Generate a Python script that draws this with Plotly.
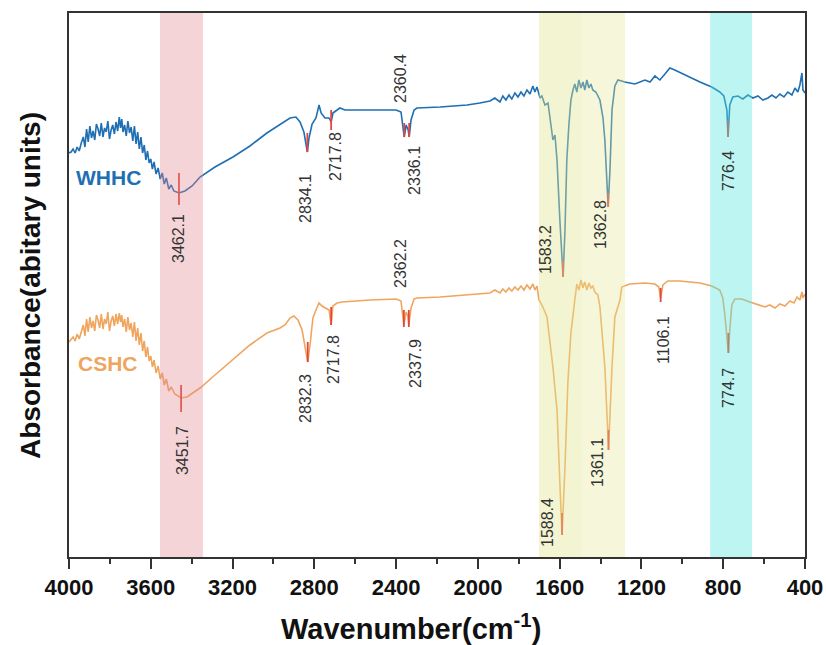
import plotly.graph_objects as go

# ---------------- data ----------------
whhc_wn = [4000, 3990, 3980, 3970, 3960, 3950, 3940, 3930, 3922, 3914,
           3906, 3898, 3890, 3882, 3874, 3866, 3858, 3850, 3842, 3834,
           3826, 3818, 3810, 3802, 3794, 3786, 3778, 3770, 3762, 3754,
           3748, 3742, 3736, 3728, 3720, 3712, 3704, 3696, 3688, 3680,
           3672, 3664, 3656, 3648, 3640, 3632, 3624, 3616, 3608, 3600,
           3592, 3584, 3574, 3564, 3554, 3544, 3534, 3524, 3512, 3500,
           3487,
           3462.1, 3433, 3398, 3359, 3286, 3198,
           3115, 3032, 2968, 2919, 2890, 2870, 2851, 2834.1, 2826, 2811,
           2792, 2777, 2767, 2748, 2728, 2717.8, 2709, 2689, 2675, 2650,
           2528, 2400, 2376, 2366, 2360.4, 2351, 2341, 2336.1, 2327, 2312,
           2298, 2185, 2053, 1990, 1941, 1917, 1892, 1878, 1863, 1848,
           1834, 1819, 1804, 1789, 1775, 1760, 1745, 1731, 1721, 1711,
           1696, 1687, 1672, 1657, 1647, 1633, 1623, 1613, 1599, 1583.2,
           1574, 1565, 1555, 1545, 1535, 1526, 1516, 1506, 1496, 1486,
           1477, 1467, 1457, 1447, 1438, 1423, 1403, 1388, 1379, 1369,
           1362.8, 1354, 1344, 1330, 1315, 1281, 1232, 1183, 1158, 1134,
           1110, 1085, 1061, 1037, 988, 914, 856, 817, 797, 782,
           776.4, 768, 753, 728, 704, 679, 655, 630, 606, 581,
           562, 542, 523, 503, 484, 464, 449, 435, 425, 415,
           410, 400]
whhc_abs = [404, 405, 408, 404, 410, 406, 414, 420, 410, 428,
            415, 431, 419, 426, 417, 433, 428, 421, 434, 420,
            429, 425, 436, 418, 427, 432, 423, 435, 426, 440,
            429, 438, 425, 432, 421, 436, 424, 430, 416, 431,
            413, 425, 408, 420, 404, 412, 397, 406, 394, 398,
            388, 395, 383, 389, 378, 384, 373, 379, 368, 372,
            366,
            364, 366, 371, 380, 390, 400,
            411, 424, 433, 439, 440, 435, 425, 405, 419, 433,
            439, 452, 444, 439, 439, 435, 444, 447, 449, 447,
            447, 447, 445, 427, 420, 432, 427, 420, 437, 447,
            449, 450, 452, 454, 456, 459, 455, 461, 457, 462,
            458, 464, 460, 465, 461, 467, 463, 471, 465, 470,
            459, 461, 452, 454, 437, 417, 422, 397, 337, 280,
            327, 397, 432, 457, 467, 473, 465, 477, 469, 475,
            467, 477, 469, 473, 467, 465, 457, 439, 417, 377,
            350, 387, 447, 471, 477, 475, 473, 477, 475, 481,
            477, 483, 489, 487, 482, 475, 470, 465, 461, 447,
            420, 452, 460, 461, 458, 462, 459, 461, 457, 459,
            462, 459, 463, 460, 465, 462, 469, 465, 472, 484,
            467, 464]

cshc_wn = [4000, 3990, 3980, 3970, 3960, 3950, 3940, 3930, 3922, 3914,
           3906, 3898, 3890, 3882, 3874, 3866, 3858, 3850, 3842, 3834,
           3826, 3818, 3810, 3802, 3794, 3786, 3778, 3770, 3762, 3754,
           3748, 3742, 3736, 3728, 3720, 3712, 3704, 3696, 3688, 3680,
           3672, 3664, 3656, 3648, 3640, 3632, 3624, 3616, 3608, 3600,
           3592, 3584, 3574, 3564, 3554, 3544, 3534, 3524, 3512, 3500,
           3482,
           3451.7, 3423, 3394, 3359, 3286,
           3198, 3115, 3032, 2968, 2944, 2919, 2900, 2880, 2860, 2846,
           2832.3, 2821, 2807, 2792, 2777, 2763, 2743, 2728, 2717.8, 2709,
           2689, 2665, 2528, 2400, 2376, 2368, 2362.2, 2351, 2343, 2337.9,
           2327, 2312, 2298, 2185, 2053, 1990, 1941, 1917, 1892, 1878,
           1863, 1848, 1834, 1819, 1804, 1789, 1775, 1760, 1745, 1731,
           1721, 1711, 1701, 1682, 1662, 1633, 1613, 1599, 1588.4, 1574,
           1560, 1545, 1535, 1526, 1516, 1506, 1496, 1486, 1477, 1467,
           1457, 1447, 1438, 1428, 1413, 1403, 1379, 1361.1, 1344, 1330,
           1305, 1296, 1257, 1183, 1134, 1115, 1106.1, 1095, 1071, 1012,
           914, 856, 817, 802, 792, 782, 774.7, 768, 758, 743,
           709, 670, 630, 596, 572, 547, 523, 498, 474, 454,
           439, 425, 415, 410, 400]
cshc_abs = [215, 217, 220, 216, 223, 218, 226, 232, 221, 238,
            225, 240, 229, 236, 226, 242, 237, 229, 243, 228,
            238, 233, 245, 226, 236, 241, 231, 243, 233, 244,
            235, 242, 230, 238, 225, 240, 227, 234, 220, 235,
            216, 229, 212, 224, 206, 216, 200, 210, 196, 201,
            190, 197, 184, 191, 178, 184, 172, 178, 166, 170,
            163,
            159, 160, 164, 169, 182,
            197, 212, 224, 229, 232, 239, 241, 237, 227, 212,
            195, 212, 239, 247, 254, 251, 249, 247, 232, 251,
            254, 255, 257, 258, 256, 239, 232, 245, 241, 232,
            249, 258, 259, 260, 262, 263, 264, 267, 264, 268,
            265, 269, 266, 270, 267, 271, 267, 272, 268, 273,
            267, 271, 257, 250, 240, 190, 147, 74, 22, 90,
            174, 224, 244, 257, 273, 267, 277, 269, 275, 267,
            274, 269, 271, 265, 262, 250, 190, 107, 190, 240,
            257, 270, 273, 274, 273, 270, 259, 272, 276, 276,
            274, 271, 267, 259, 242, 217, 204, 227, 252, 258,
            258, 255, 252, 250, 252, 249, 253, 251, 256, 254,
            260, 257, 265, 259, 263]

# peak marks
whhc_peaks = [3462.1, 2834.1, 2717.8, 2360.4, 2336.1, 1583.2, 1362.8, 776.4]
whhc_mark_lo = [352, 405, 427, 420, 420, 280, 350, 420]
whhc_mark_hi = [384, 424, 447, 434, 434, 297, 364, 437]
cshc_peaks = [3451.7, 2832.3, 2717.8, 2362.2, 2337.9, 1588.4, 1361.1, 1106.1, 774.7]
cshc_mark_lo = [145, 195, 232, 230, 230, 22, 107, 255, 204]
cshc_mark_hi = [172, 215, 250, 247, 247, 44, 127, 269, 224]

# shaded bands (wavenumber ranges)
band_pink = (3555, 3345)
band_yellow = (1701, 1280)
band_yellow_dark = (1701, 1491)
band_cyan = (864, 659)

# label placement (layout)
whhc_label_x = [3467, 2846, 2699, 2381, 2313, 1672, 1403, 777]
whhc_label_y = [319, 359, 401, 478, 387, 308, 333, 386]
cshc_label_x = [3447, 2846, 2709, 2381, 2308, 1662, 1418, 1095, 777]
cshc_label_y = [106, 159, 198, 293, 194, 35, 95, 217, 169]

BLUE = "#1f6fb2"
ORANGE = "#f0a55f"
RED = "#e2463d"
FONT = "Liberation Sans, Arial, sans-serif"

fig = go.Figure()
fig.add_trace(go.Scatter(x=whhc_wn, y=whhc_abs, mode="lines",
                         line=dict(color=BLUE, width=1.6), showlegend=False))
fig.add_trace(go.Scatter(x=cshc_wn, y=cshc_abs, mode="lines",
                         line=dict(color=ORANGE, width=1.6), showlegend=False))

mx, my = [], []
for p, lo, hi in list(zip(whhc_peaks, whhc_mark_lo, whhc_mark_hi)) + list(zip(cshc_peaks, cshc_mark_lo, cshc_mark_hi)):
    mx += [p, p, None]
    my += [lo, hi, None]
fig.add_trace(go.Scatter(x=mx, y=my, mode="lines", line=dict(color=RED, width=1.8),
                         showlegend=False, connectgaps=False))

annotations = []
for p, lx, ly in zip(whhc_peaks, whhc_label_x, whhc_label_y):
    annotations.append(dict(x=lx, y=ly, xref="x", yref="y", text=f"{p:.1f}", textangle=-90,
                            showarrow=False, font=dict(family=FONT, size=16, color="#333333"),
                            xanchor="center", yanchor="middle"))
for p, lx, ly in zip(cshc_peaks, cshc_label_x, cshc_label_y):
    annotations.append(dict(x=lx, y=ly, xref="x", yref="y", text=f"{p:.1f}", textangle=-90,
                            showarrow=False, font=dict(family=FONT, size=16, color="#333333"),
                            xanchor="center", yanchor="middle"))
annotations.append(dict(x=3809, y=380, xref="x", yref="y", text="<b>WHHC</b>", showarrow=False,
                        font=dict(family=FONT, size=21, color=BLUE)))
annotations.append(dict(x=3809, y=194, xref="x", yref="y", text="<b>CSHC</b>", showarrow=False,
                        font=dict(family=FONT, size=21, color=ORANGE)))
annotations.append(dict(x=0.465, y=-0.128, xref="paper", yref="paper",
                        text="<b>Wavenumber(cm<sup>-1</sup>)</b>", showarrow=False,
                        font=dict(family=FONT, size=29, color="#111111"),
                        xanchor="center", yanchor="middle"))
annotations.append(dict(x=-0.053, y=0.5, xref="paper", yref="paper",
                        text="<b>Absorbance(abitary units)</b>", showarrow=False, textangle=-90,
                        font=dict(family=FONT, size=28, color="#111111"),
                        xanchor="center", yanchor="middle"))

shapes = [
    dict(type="rect", xref="x", yref="paper", x0=band_pink[0], x1=band_pink[1], y0=0, y1=1,
         fillcolor="rgba(226,132,143,0.35)", line=dict(width=0), layer="above"),
    dict(type="rect", xref="x", yref="paper", x0=band_yellow[0], x1=band_yellow[1], y0=0, y1=1,
         fillcolor="rgba(229,232,149,0.35)", line=dict(width=0), layer="above"),
    dict(type="rect", xref="x", yref="paper", x0=band_yellow_dark[0], x1=band_yellow_dark[1], y0=0, y1=1,
         fillcolor="rgba(215,222,140,0.10)", line=dict(width=0), layer="above"),
    dict(type="rect", xref="x", yref="paper", x0=band_cyan[0], x1=band_cyan[1], y0=0, y1=1,
         fillcolor="rgba(87,230,222,0.40)", line=dict(width=0), layer="above"),
]

fig.update_layout(
    width=826, height=645, autosize=False,
    margin=dict(l=69, r=21, t=13, b=88, autoexpand=False),
    paper_bgcolor="white", plot_bgcolor="white",
    annotations=annotations, shapes=shapes,
    font=dict(family=FONT),
)
major = [4000, 3600, 3200, 2800, 2400, 2000, 1600, 1200, 800, 400]
minor_t = [3800, 3400, 3000, 2600, 2200, 1800, 1400, 1000, 600]
fig.update_xaxes(range=[4000, 400], tickmode="array", automargin=False,
                 tickvals=major, ticktext=["<b>%d</b>" % v for v in major],
                 ticks="outside", ticklen=10, tickwidth=2, tickcolor="#333333",
                 minor=dict(tickvals=minor_t, ticks="outside", ticklen=5, tickwidth=2, tickcolor="#333333"),
                 showline=True, linecolor="#333333", linewidth=2, mirror=True,
                 showgrid=False, zeroline=False,
                 tickfont=dict(family=FONT, size=22, color="#111111"))
fig.update_yaxes(range=[0, 544], showticklabels=False, ticks="", automargin=False,
                 showline=True, linecolor="#333333", linewidth=2, mirror=True,
                 showgrid=False, zeroline=False)

fig.write_html("out.html", config={"displayModeBar": False},
               post_script="document.body.style.margin='0px';document.body.style.overflow='hidden';")
